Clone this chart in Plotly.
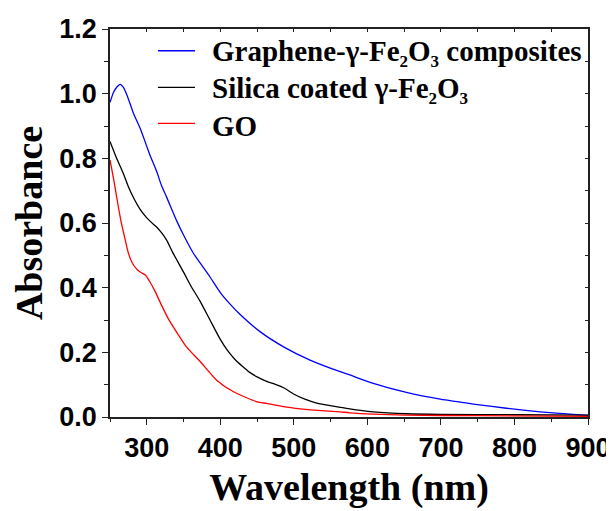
import plotly.graph_objects as go

# ---- data ----
wl_blue = [250, 255, 260, 264, 268, 273, 282, 291, 300, 304, 314, 320, 327, 341, 350, 363, 372, 386,
           400, 413, 427, 454, 486, 522, 563, 576, 608, 653, 699, 744, 789, 835, 880, 900]
abs_blue = [0.973, 1.005, 1.022, 1.029, 1.020, 0.996, 0.939, 0.893, 0.837, 0.812, 0.756, 0.716, 0.680,
            0.605, 0.563, 0.508, 0.478, 0.433, 0.385, 0.350, 0.317, 0.264, 0.217, 0.176, 0.140, 0.130,
            0.104, 0.076, 0.055, 0.040, 0.027, 0.016, 0.008, 0.005]

wl_black = [250, 259, 268, 275, 282, 291, 300, 309, 314, 320, 327, 335, 350, 360, 372, 386, 400,
            410, 420, 430, 440, 450, 463, 475, 485, 499, 515, 531, 563, 576, 608, 653, 700, 800, 900]
abs_black = [0.852, 0.800, 0.754, 0.712, 0.678, 0.642, 0.616, 0.596, 0.586, 0.570, 0.547, 0.510, 0.448,
             0.405, 0.360, 0.300, 0.240, 0.205, 0.178, 0.157, 0.138, 0.124, 0.110, 0.101, 0.092, 0.072,
             0.055, 0.043, 0.030, 0.025, 0.016, 0.010, 0.008, 0.007, 0.006]

wl_red = [250, 255, 260, 265, 270, 275, 280, 286, 292, 298, 304, 311, 320, 329, 336, 354, 372, 395,
          418, 450, 463, 486, 509, 522, 563, 576, 653, 750, 900]
abs_red = [0.795, 0.735, 0.668, 0.605, 0.555, 0.507, 0.478, 0.458, 0.447, 0.439, 0.419, 0.390, 0.346,
           0.305, 0.279, 0.217, 0.173, 0.114, 0.078, 0.047, 0.042, 0.032, 0.025, 0.022, 0.016, 0.013,
           0.006, 0.004, 0.002]

SUB2 = '<sub><span style="font-size:17px">2</span></sub>'
SUB3 = '<sub><span style="font-size:17px">3</span></sub>'
series_names = ["Graphene-γ-Fe" + SUB2 + "O" + SUB3 + " composites",
                "Silica coated γ-Fe" + SUB2 + "O" + SUB3,
                "GO"]
series_colors = ["#0000FF", "#000000", "#FF0000"]

x_ticks = [300, 400, 500, 600, 700, 800, 900]
y_ticks = [0.0, 0.2, 0.4, 0.6, 0.8, 1.0, 1.2]

SERIF = "Liberation Serif, Times New Roman, serif"
SANS = "Liberation Sans, Arial, sans-serif"

fig = go.Figure()
for xs, ys, c in [(wl_blue, abs_blue, series_colors[0]),
                  (wl_black, abs_black, series_colors[1]),
                  (wl_red, abs_red, series_colors[2])]:
    fig.add_trace(go.Scatter(x=xs, y=ys, mode="lines", showlegend=False,
                             line=dict(color=c, width=1.3, shape="spline", smoothing=0.6)))

# invisible trace to activate secondary (mirror) axes
fig.add_trace(go.Scatter(x=[250], y=[0], xaxis="x2", yaxis="y2", mode="markers",
                         marker=dict(opacity=0), showlegend=False, hoverinfo="skip"))

axis_col = "#222222"
# the page body adds an 8px offset, so the figure is 8px smaller
fig.update_layout(
    width=606, height=503,
    margin=dict(l=102, r=26, t=21, b=94),
    paper_bgcolor="white", plot_bgcolor="white",
    xaxis=dict(range=[250, 900], tickvals=x_ticks, ticktext=[str(v) for v in x_ticks],
               automargin=False,
               showgrid=False, zeroline=False, showline=True, linecolor=axis_col, linewidth=1.5,
               ticks="outside", ticklen=6, tickwidth=1.3, tickcolor=axis_col,
               minor=dict(dtick=50, tick0=250, ticks="outside", ticklen=3.5, tickwidth=1.2, tickcolor=axis_col),
               tickfont=dict(family=SANS, size=27, color="black", weight="bold"),
               title=dict(text="Wavelength (nm)", standoff=11,
                          font=dict(family=SERIF, size=38, color="black", weight="bold"))),
    yaxis=dict(range=[0, 1.2], tickvals=y_ticks, ticktext=["%.1f" % v for v in y_ticks],
               automargin=False,
               showgrid=False, zeroline=False, showline=True, linecolor=axis_col, linewidth=1.5,
               ticks="outside", ticklen=6, tickwidth=1.3, tickcolor=axis_col,
               minor=dict(dtick=0.1, tick0=0, ticks="outside", ticklen=4, tickwidth=1.2, tickcolor=axis_col),
               tickfont=dict(family=SANS, size=27, color="black", weight="bold"),
               title=dict(text="Absorbance", standoff=9,
                          font=dict(family=SERIF, size=38, color="black", weight="bold"))),
    xaxis2=dict(range=[250, 900], overlaying="x", side="top", showgrid=False, zeroline=False,
                automargin=False,
                showline=True, linecolor=axis_col, linewidth=1.5, ticks="inside", dtick=50, tick0=250,
                ticklen=3, tickwidth=1, tickcolor=axis_col, showticklabels=False),
    yaxis2=dict(range=[0, 1.2], overlaying="y", side="right", showgrid=False, zeroline=False,
                automargin=False,
                showline=True, linecolor=axis_col, linewidth=1.5, ticks="inside", dtick=0.1, tick0=0,
                ticklen=3, tickwidth=1, tickcolor=axis_col, showticklabels=False),
)

# legend drawn as annotations + sample line segments
leg_y = [0.944, 0.8497, 0.757]
for name, col, yy in zip(series_names, series_colors, leg_y):
    fig.add_shape(type="line", xref="paper", yref="paper", x0=0.1004, x1=0.1778, y0=yy, y1=yy,
                  line=dict(color=col, width=1.3))
    fig.add_annotation(xref="paper", yref="paper", x=0.2092, y=yy - 0.006, xanchor="left", yanchor="middle",
                       text=name, showarrow=False,
                       font=dict(family=SERIF, size=29, color="black", weight="bold"))

fig.write_html("out.html")
